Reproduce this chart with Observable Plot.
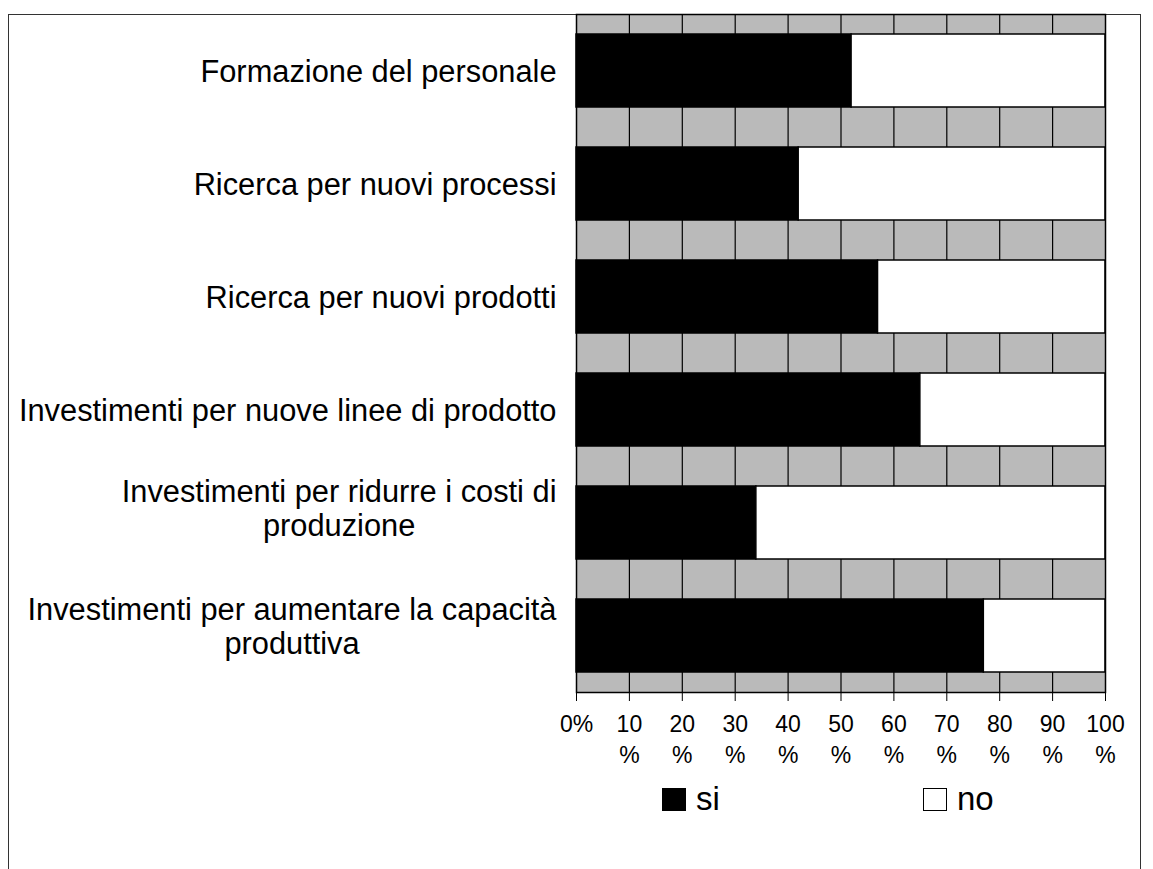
<!DOCTYPE html>
<html>
<head>
<meta charset="utf-8">
<script src="https://cdn.jsdelivr.net/npm/d3@7"></script>
<script src="https://cdn.jsdelivr.net/npm/@observablehq/plot@0.6"></script>
<style>
  html, body { margin: 0; padding: 0; background: #fff; }
  #wrap { position: relative; width: 1153px; height: 869px; overflow: hidden; font-family: "Liberation Sans", Arial, sans-serif; }
  #frame { position: absolute; left: 8px; top: 14px; width: 1133px; height: 900px; border-top: 1.5px solid #333; border-left: 1.5px solid #333; border-right: 1.5px solid #333; box-sizing: border-box; }
  #chart { position: absolute; left: 0; top: 0; }
  .leg { position: absolute; top: 780px; display: flex; align-items: center; font-size: 33px; color: #000; }
  .sw { width: 24px; height: 23px; border: 1.5px solid #000; box-sizing: border-box; margin-right: 10px; }
</style>
</head>
<body>
<div id="wrap">
  <div id="frame"></div>
  <div id="chart"></div>
  <div class="leg" style="left:662px"><div class="sw" style="background:#000"></div><span>si</span></div>
  <div class="leg" style="left:923px"><div class="sw" style="background:#fff"></div><span>no</span></div>
</div>
<script>
const categories = [
  "Formazione del personale",
  "Ricerca per nuovi processi",
  "Ricerca per nuovi prodotti",
  "Investimenti per nuove linee di prodotto",
  "Investimenti per ridurre i costi di produzione",
  "Investimenti per aumentare la capacità produttiva"
];
const labelLines = [
  ["Formazione del personale"],
  ["Ricerca per nuovi processi"],
  ["Ricerca per nuovi prodotti"],
  ["Investimenti per nuove linee di prodotto"],
  ["Investimenti per ridurre i costi di", "produzione"],
  ["Investimenti per aumentare la capacità", "produttiva"]
];
const labelShift = [0, 0, 0, 0, -15, -10];
const siValues = [52, 42, 57, 65, 34, 77];
const noValues = [48, 58, 43, 35, 66, 23];
const seriesNames = ["si", "no"];
const xTicks = [0, 10, 20, 30, 40, 50, 60, 70, 80, 90, 100];

const rows = [];
categories.forEach((c, i) => rows.push({cat: c, series: "si", value: siValues[i]}));
categories.forEach((c, i) => rows.push({cat: c, series: "no", value: noValues[i]}));

const W = 1153, H = 775, mL = 576, mR = 48, mT = 14, mB = 83;
const font = '"Liberation Sans", Arial, sans-serif';

const ctx = document.createElement("canvas").getContext("2d");
ctx.font = `30.8px ${font}`;
const labelRight = 556;

const labelMarks = categories.map((c, i) => {
  const lines = labelLines[i];
  const w = Math.max(...lines.map(l => ctx.measureText(l).width));
  const center = labelRight - w / 2;
  return Plot.text([c], {
    y: d => d,
    text: () => lines.join("\n"),
    frameAnchor: "left",
    textAnchor: "middle",
    dx: center - mL,
    dy: labelShift[i],
    fontSize: 30.8,
    lineHeight: 1.12,
    lineAnchor: "middle",
    fill: "black"
  });
});

const chart = Plot.plot({
  width: W,
  height: H,
  marginLeft: mL,
  marginRight: mR,
  marginTop: mT,
  marginBottom: mB,
  style: {fontFamily: font, fontSize: "23px", color: "black", background: "transparent", overflow: "visible"},
  x: {domain: [0, 100]},
  y: {domain: categories, paddingInner: 0.354, paddingOuter: 0.177, axis: null},
  color: {domain: seriesNames, range: ["#000000", "#ffffff"]},
  marks: [
    Plot.frame({fill: "#bababa", stroke: "none"}),
    Plot.ruleX(xTicks.slice(1, -1), {stroke: "#000", strokeWidth: 1.2}),
    Plot.barX(rows, Plot.stackX({x: "value", y: "cat", fill: "series", stroke: "#000", strokeWidth: 1.5})),
    Plot.frame({stroke: "#000", strokeWidth: 1.5}),
    Plot.axisX({
      ticks: xTicks,
      tickFormat: d => d === 0 ? "0%" : d + "\n%",
      tickSize: 9,
      tickPadding: 8,
      fontSize: 23,
      lineHeight: 1.35,
      label: null,
      stroke: "#000"
    }),
    ...labelMarks
  ]
});
document.getElementById("chart").appendChild(chart);
</script>
</body>
</html>
